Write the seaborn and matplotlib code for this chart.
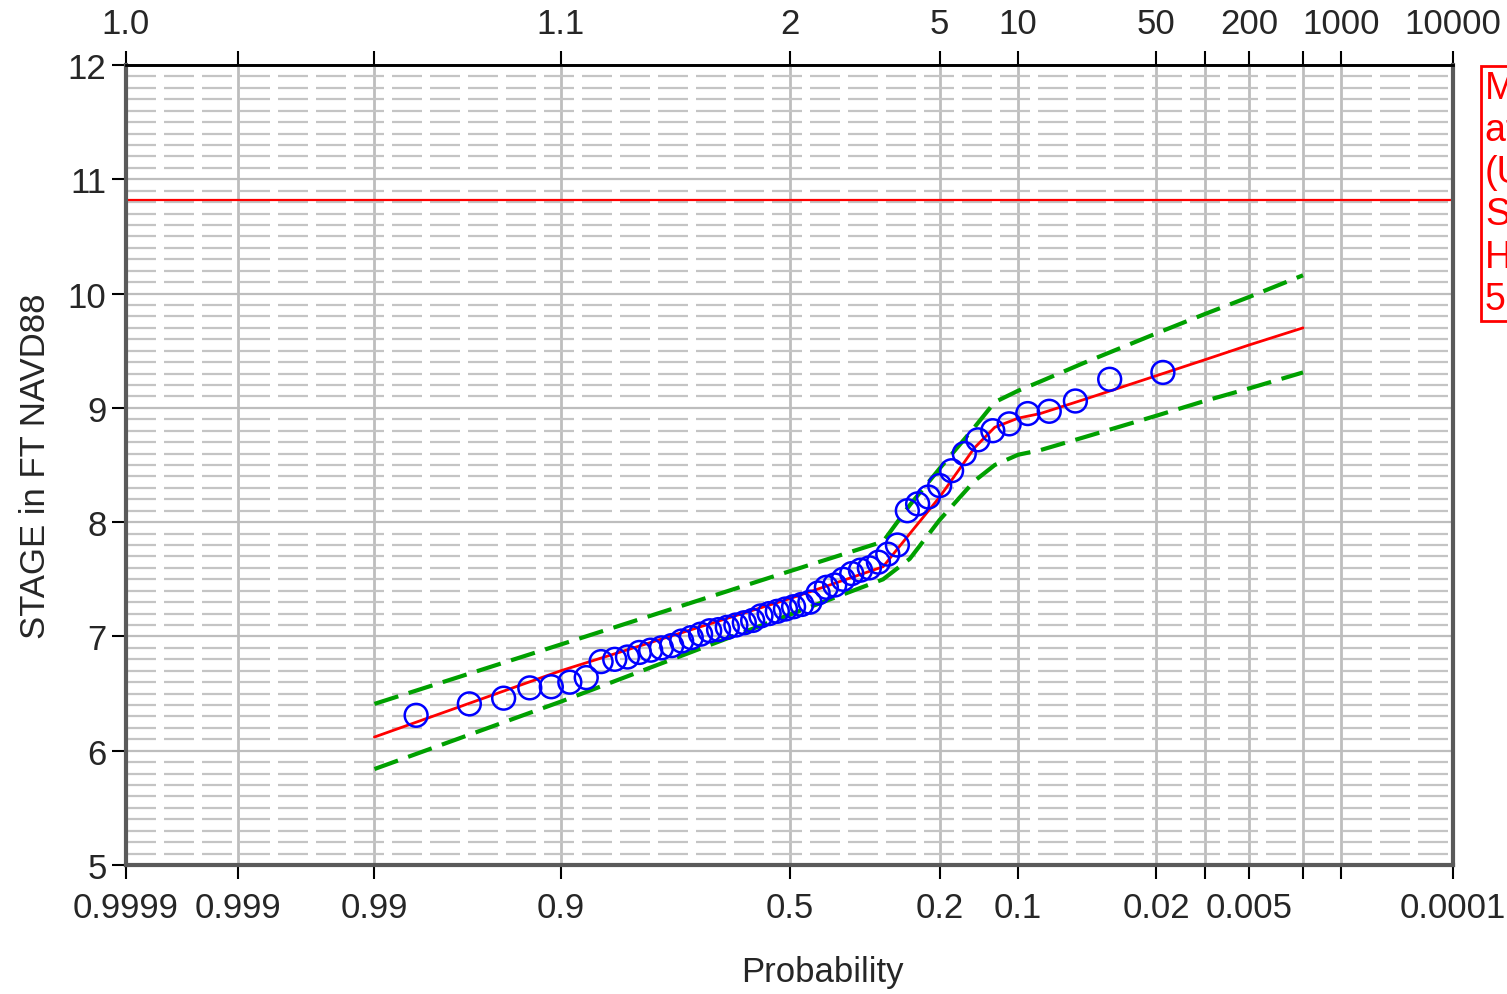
import numpy as np
import pandas as pd
import matplotlib
matplotlib.use("Agg")
import matplotlib.pyplot as plt
import seaborn as sns
from statistics import NormalDist

# Annual peak stages, ranked from highest to lowest (ft NAVD88)
stage_ft = [9.31, 9.25, 9.06, 8.97, 8.95, 8.86, 8.80, 8.72, 8.60, 8.45,
            8.32, 8.22, 8.16, 8.10, 7.80, 7.72, 7.65, 7.60, 7.58, 7.55,
            7.50, 7.45, 7.43, 7.38, 7.30, 7.28, 7.26, 7.24, 7.22, 7.20,
            7.18, 7.14, 7.12, 7.10, 7.08, 7.06, 7.05, 7.02, 6.99, 6.96,
            6.92, 6.90, 6.88, 6.86, 6.82, 6.80, 6.78, 6.64, 6.60, 6.56,
            6.55, 6.46, 6.41, 6.31]

# Maximum observed stage (horizontal reference line)
max_stage_ft = 10.82

# Fitted frequency curve and confidence limits at exceedance probabilities
fit_prob = [0.99, 0.9, 0.5, 0.3, 0.25, 0.2, 0.15, 0.125, 0.1, 0.08,
            0.05, 0.02, 0.01, 0.005, 0.002]
fit_stage = [6.12, 6.70, 7.33, 7.61, 7.90, 8.22, 8.65, 8.83, 8.91, 8.95,
             9.07, 9.28, 9.42, 9.55, 9.70]
upper_stage = [6.41, 6.93, 7.57, 7.83, 8.15, 8.47, 8.83, 9.05, 9.15, 9.23,
               9.39, 9.65, 9.82, 9.97, 10.16]
lower_stage = [5.84, 6.43, 7.19, 7.50, 7.68, 8.02, 8.36, 8.50, 8.59, 8.63,
               8.74, 8.93, 9.06, 9.17, 9.31]

# Axis ticks
tick_prob = [0.9999, 0.999, 0.99, 0.9, 0.5, 0.2, 0.1, 0.02, 0.01, 0.005,
             0.002, 0.001, 0.0001]
prob_labels = ["0.9999", "0.999", "0.99", "0.9", "0.5", "0.2", "0.1", "0.02",
               "", "0.005", "", "", "0.0001"]
period_labels = ["1.0", "", "", "1.1", "2", "5", "10", "50", "", "200", "",
                 "1000", "10000"]

note_text = "Max Observed\nat Gage\n(USGS)\nSandy\nHurricane\n5 Year"

nd = NormalDist()


def to_z(probs):
    """Exceedance probability -> standard normal variate (probability paper)"""
    return [nd.inv_cdf(1 - p) for p in probs]


# Weibull plotting positions
n = len(stage_ft)
rank = np.arange(1, n + 1)
obs = pd.DataFrame({"z": to_z(rank / (n + 1)), "stage": stage_ft})
fit = pd.DataFrame({"z": to_z(fit_prob), "fit": fit_stage,
                    "upper": upper_stage, "lower": lower_stage})

sns.set_theme(style="white")
plt.rcParams["font.family"] = ["Liberation Sans", "DejaVu Sans"]

fig = plt.figure(figsize=(15.07, 9.95), dpi=100)
ax = fig.add_axes([0.0836, 0.1296, 0.8806, 0.8041])

# Confidence limits and fitted curve
for col in ["upper", "lower"]:
    sns.lineplot(data=fit, x="z", y=col, ax=ax, color="#00a000", lw=3,
                 dashes=False, estimator=None, sort=False,
                 linestyle=(0, (6, 2.6)), zorder=3)
sns.lineplot(data=fit, x="z", y="fit", ax=ax, color="red", lw=2,
             estimator=None, sort=False, zorder=4)

sns.scatterplot(data=obs, x="z", y="stage", ax=ax, marker="o", s=270,
                facecolor="none", edgecolor="blue", linewidth=1.8, zorder=5)

ax.axhline(max_stage_ft, color="red", lw=1.6, zorder=2)

tick_z = to_z(tick_prob)
ax.set_xlim(tick_z[0], tick_z[-1])
ax.set_ylim(5, 12)
ax.set_xticks(tick_z, labels=prob_labels)
ax.set_yticks(range(5, 13))
ax.set_yticks(np.arange(5, 12.01, 0.1), minor=True)

ax.set_axisbelow(True)
ax.grid(axis="x", which="major", color="#bdbdbd", lw=2)
ax.grid(axis="y", which="major", color="#bdbdbd", lw=1.6)
ax.grid(axis="y", which="minor", color="#c4c4c4", lw=1.6,
        linestyle=(0, (13.5, 3.6)))

ax.tick_params(axis="both", which="major", direction="out", length=10,
               width=1.5, color="black", labelsize=25, bottom=True, left=True)
ax.tick_params(axis="x", pad=9)
ax.tick_params(axis="y", pad=4)
ax.tick_params(which="minor", length=0)

for side in ["left", "bottom", "right"]:
    ax.spines[side].set_color("#5a5a5a")
    ax.spines[side].set_linewidth(3)
ax.spines["top"].set_color("black")
ax.spines["top"].set_linewidth(2)

secax = ax.secondary_xaxis("top")
secax.set_xticks(tick_z, labels=period_labels)
secax.tick_params(direction="out", length=10, width=1.5, color="black",
                  labelsize=25, pad=8)
secax.spines["top"].set_linewidth(2)

ax.set_xlabel("Probability", fontsize=25)
ax.set_ylabel("STAGE in FT NAVD88", fontsize=25)
ax.xaxis.set_label_coords(0.5245, -0.112)
ax.yaxis.set_label_coords(-0.056, 0.5)

fig.text(1485 / 1507, 1 - 71 / 995, note_text, color="red", fontsize=27,
         ha="left", va="top", linespacing=1.22,
         bbox=dict(boxstyle="square,pad=0.1", fc="white", ec="red", lw=2))

fig.savefig("out.png", dpi=100)
plt.close(fig)
